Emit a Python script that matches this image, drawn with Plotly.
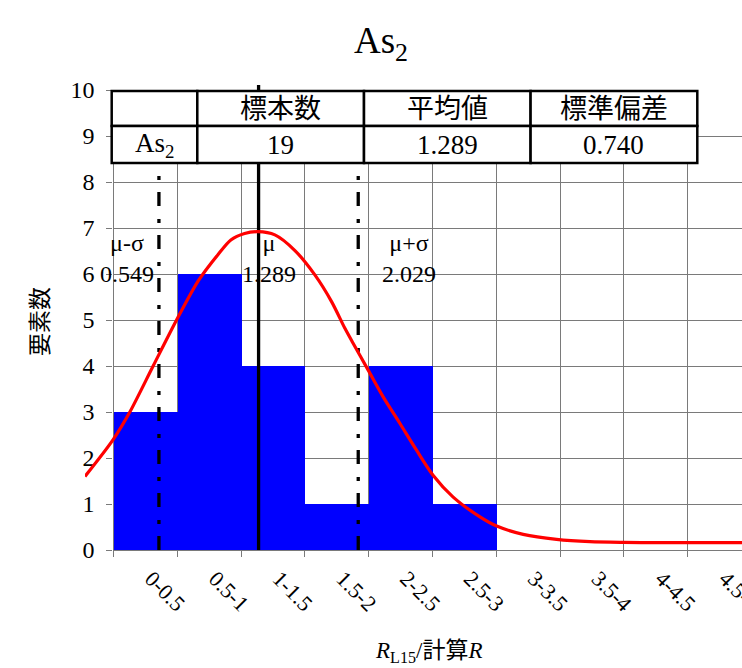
import plotly.graph_objects as go

# ---- data ----
categories = ["0-0.5", "0.5-1", "1-1.5", "1.5-2", "2-2.5", "2.5-3",
              "3-3.5", "3.5-4", "4-4.5", "4.5-5"]
counts = [3, 6, 4, 1, 4, 1, 0, 0, 0, 0]

series_name = "As<sub>2</sub>"
mu = 1.289
sigma = 0.740
n_samples = sum(counts)

# fitted distribution curve (R value, element count)
curve_r = [0.000, 0.209, 0.333, 0.506, 0.680, 0.841, 0.987, 1.083, 1.185, 1.284,
           1.410, 1.559, 1.707, 1.831, 1.930, 1.992, 2.103, 2.214, 2.339, 2.462,
           2.586, 2.734, 2.933, 3.057, 3.254, 3.502, 3.750, 3.998, 4.250, 4.600,
           4.879]
curve_n = [1.60, 2.40, 3.00, 4.00, 5.00, 5.85, 6.42, 6.74, 6.88, 6.92,
           6.85, 6.51, 5.98, 5.40, 4.82, 4.49, 3.91, 3.33, 2.75, 2.17,
           1.62, 1.15, 0.72, 0.52, 0.34, 0.23, 0.18, 0.165, 0.16, 0.16,
           0.16]

table_header = ["", "標本数", "平均値", "標準偏差"]
table_row = [series_name, str(n_samples), f"{mu:.3f}", f"{sigma:.3f}"]

# ---- layout geometry (pixels) ----
W, H = 742, 668
ML, MR, MT, MB = 85, 0, 85, 118
PW, PH = W - ML - MR, H - MT - MB
AXIS_X = 113.5          # left edge of histogram axis
BIN_PX = 63.8           # width of one histogram bin
R_PX = 134.66           # pixels per R unit on the curve axis
Y0_PX = 550             # pixel row of zero count
Y10_PX = 90             # pixel row of count 10


def px_x(p):
    return (p - ML) / PW


def px_y(p):
    return (H - MB - p) / PH


FONT = "Liberation Serif, 'Noto Sans CJK JP', serif"
GRID = "#7a7a7a"

fig = go.Figure()

fig.add_trace(go.Bar(
    x=categories, y=counts, marker=dict(color="#0000ff", line=dict(width=0)),
    xaxis="x", yaxis="y", showlegend=False, hoverinfo="x+y",
))

y2_top = 10 * (Y0_PX - MT) / (Y0_PX - Y10_PX)

# reference lines at mu - sigma, mu, mu + sigma
dashdot = "14px,12px,4px,13px"
for xv, dash in [(mu - sigma, dashdot), (mu, "solid"), (mu + sigma, dashdot)]:
    fig.add_trace(go.Scatter(
        x=[xv, xv], y=[0, y2_top], mode="lines",
        line=dict(color="black", width=3.3, dash=dash),
        xaxis="x2", yaxis="y2", showlegend=False, hoverinfo="skip",
    ))

fig.add_trace(go.Scatter(
    x=curve_r, y=curve_n, mode="lines",
    line=dict(color="#ff0000", width=3.2, shape="spline", smoothing=0.8),
    xaxis="x2", yaxis="y2", showlegend=False,
))

# ---- table ----
col_px = [111.7, 197.3, 364.0, 530.6, 697.3]
row_px = [91, 126, 163]
shapes = []
annotations = []
for r, texts in enumerate([table_header, table_row]):
    for c, txt in enumerate(texts):
        x0, x1 = px_x(col_px[c]), px_x(col_px[c + 1])
        y0, y1 = px_y(row_px[r + 1]), px_y(row_px[r])
        shapes.append(dict(type="rect", xref="paper", yref="paper",
                           x0=x0, x1=x1, y0=y0, y1=y1, layer="above",
                           fillcolor="white", line=dict(color="black", width=2.5)))
        if txt:
            annotations.append(dict(xref="paper", yref="paper",
                                    x=(x0 + x1) / 2, y=(y0 + y1) / 2,
                                    text=txt, showarrow=False,
                                    xanchor="center", yanchor="middle",
                                    font=dict(family=FONT, size=27, color="black")))

# ---- labels of the reference lines ----
for xv, name, shift in [(mu - sigma, "μ-σ", -32), (mu, "μ", 10), (mu + sigma, "μ+σ", 51)]:
    annotations.append(dict(
        xref="x2", yref="paper", x=xv, y=px_y(258), xshift=shift,
        text=f"{name}<br>{xv:.3f}", showarrow=False, align="center",
        xanchor="center", yanchor="middle",
        font=dict(family=FONT, size=24, color="black"),
    ))

# axis titles
annotations.append(dict(
    xref="paper", yref="paper", x=px_x(428), y=px_y(652),
    text="<i>R</i><sub>L15</sub>/計算<i>R</i>", showarrow=False,
    xanchor="center", yanchor="middle",
    font=dict(family=FONT, size=23, color="black"),
))
annotations.append(dict(
    xref="paper", yref="paper", x=px_x(40), y=px_y(322),
    text="要素数", showarrow=False, textangle=-90,
    xanchor="center", yanchor="middle",
    font=dict(family=FONT, size=23, color="black"),
))

fig.update_layout(
    width=W, height=H,
    margin=dict(l=ML, r=MR, t=MT, b=MB, autoexpand=False),
    paper_bgcolor="white", plot_bgcolor="rgba(0,0,0,0)",
    bargap=0,
    font=dict(family=FONT, color="black"),
    title=dict(text=series_name, x=381 / W, xref="container", xanchor="center",
               y=1 - 40 / H, yref="container", yanchor="middle",
               font=dict(family=FONT, size=37, color="black")),
    xaxis=dict(
        type="category", domain=[px_x(AXIS_X), 1],
        range=[-0.5, (W - AXIS_X) / BIN_PX - 0.5],
        tickson="boundaries", ticks="outside", ticklen=6, tickcolor=GRID,
        showgrid=True, gridcolor=GRID, gridwidth=1.3,
        showline=True, linecolor=GRID, linewidth=1.3,
        tickangle=45, ticklabelstandoff=6, ticklabelshift=6,
        tickfont=dict(family=FONT, size=22, color="black"),
        anchor="y", fixedrange=True,
    ),
    yaxis=dict(
        domain=[0, (Y0_PX - Y10_PX) / (Y0_PX - MT)], range=[0, 10],
        tickvals=list(range(0, 11)), ticks="outside", ticklen=6, tickcolor=GRID,
        showgrid=True, gridcolor=GRID, gridwidth=1.3, zeroline=False,
        showline=True, linecolor=GRID, linewidth=1.3,
        ticklabelstandoff=7,
        tickfont=dict(family=FONT, size=24, color="black"),
        anchor="x", fixedrange=True,
    ),
    xaxis2=dict(domain=[0, 1], range=[0, PW / R_PX], visible=False,
                anchor="y2", fixedrange=True),
    yaxis2=dict(domain=[0, 1], range=[0, y2_top], visible=False,
                anchor="x2", fixedrange=True),
    shapes=shapes,
    annotations=annotations,
)

fig.write_html("out.html")
